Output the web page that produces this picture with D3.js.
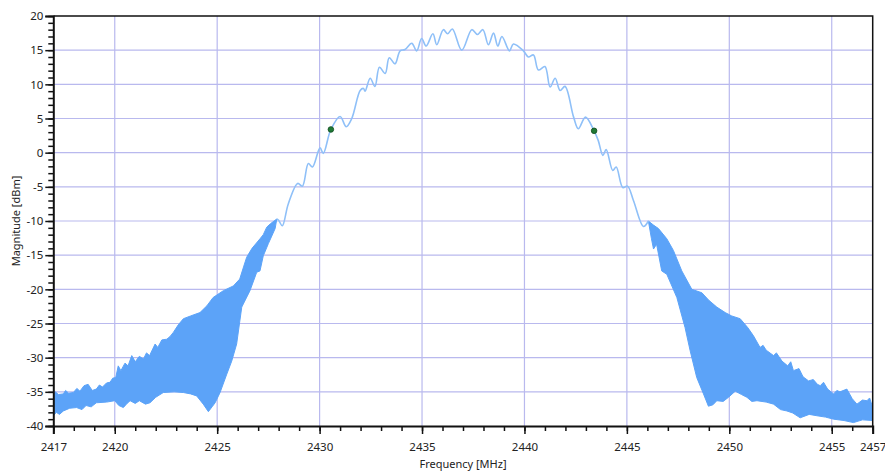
<!DOCTYPE html>
<html>
<head>
<meta charset="utf-8">
<script src="https://cdn.jsdelivr.net/npm/d3@7"></script>
<style>
  body { margin: 0; background: #ffffff; }
  text { font-family: "Noto Sans", "Open Sans", sans-serif; fill: #222; }
</style>
</head>
<body>
<svg id="chart" width="885" height="472"></svg>
<script>
// Axis ticks
const xTickLabels = [2417, 2420, 2425, 2430, 2435, 2440, 2445, 2450, 2455, 2457];
const yTickLabels = [-40, -35, -30, -25, -20, -15, -10, -5, 0, 5, 10, 15, 20];
const xGrid = [2420, 2425, 2430, 2435, 2440, 2445, 2450, 2455];
const yGrid = [-35, -30, -25, -20, -15, -10, -5, 0, 5, 10, 15];

// Lower sideband noise envelope [MHz, dBm]
const leftBandUpper = [
  [2417.0, -35.6], [2417.1, -35.0], [2417.25, -35.4], [2417.49, -35.3], [2417.6, -34.8],
  [2417.75, -35.2], [2417.98, -35.1], [2418.15, -34.5], [2418.3, -34.9], [2418.5, -34.1],
  [2418.7, -33.9], [2418.9, -34.8], [2419.1, -34.6], [2419.25, -34.0], [2419.4, -34.3],
  [2419.6, -33.7], [2419.77, -33.6], [2419.9, -33.0], [2420.05, -32.9], [2420.17, -31.2],
  [2420.3, -31.9], [2420.5, -30.8], [2420.65, -31.2], [2420.83, -29.7], [2421.0, -30.6],
  [2421.2, -29.8], [2421.4, -30.2], [2421.55, -29.3], [2421.7, -29.7], [2421.97, -28.0],
  [2422.1, -28.5], [2422.3, -27.4], [2422.54, -27.3], [2422.7, -26.9], [2422.86, -26.3],
  [2423.1, -25.2], [2423.35, -24.3], [2423.7, -23.9], [2424.16, -23.4], [2424.5, -22.4],
  [2424.8, -21.2], [2425.3, -20.2], [2425.79, -19.5], [2426.1, -18.5], [2426.3, -16.6],
  [2426.44, -15.3], [2426.7, -14.0], [2427.09, -12.6], [2427.25, -12.0], [2427.42, -10.9],
  [2427.6, -10.4], [2427.91, -9.7]
];
const leftBandLower = [
  [2417.0, -38.5], [2417.15, -38.0], [2417.3, -38.3], [2417.49, -37.8], [2417.8, -37.4],
  [2418.14, -37.3], [2418.4, -37.6], [2418.6, -37.0], [2418.85, -37.2], [2419.1, -36.6],
  [2419.6, -36.5], [2420.0, -36.3], [2420.2, -37.0], [2420.42, -37.3], [2420.6, -36.7],
  [2420.75, -36.3], [2421.0, -36.7], [2421.2, -36.3], [2421.5, -36.8], [2421.72, -36.6],
  [2422.0, -35.8], [2422.37, -35.1], [2422.9, -35.0], [2423.35, -35.1], [2423.7, -35.3],
  [2424.0, -35.6], [2424.32, -36.8], [2424.57, -37.9], [2424.75, -37.2], [2424.9, -36.6],
  [2425.14, -35.1], [2425.47, -32.4], [2425.71, -30.5], [2425.95, -28.0], [2426.2, -22.6],
  [2426.6, -20.2], [2426.93, -17.5], [2427.09, -17.3], [2427.25, -15.1], [2427.5, -13.3],
  [2427.83, -11.1], [2427.91, -9.7]
];

// Upper sideband noise envelope [MHz, dBm]
const rightBandUpper = [
  [2446.05, -10.0], [2446.3, -10.6], [2446.54, -11.1], [2446.95, -12.6], [2447.27, -14.3],
  [2447.68, -17.3], [2448.17, -20.0], [2448.66, -20.5], [2449.0, -21.6], [2449.39, -22.6],
  [2449.8, -23.4], [2450.12, -23.9], [2450.53, -24.3], [2450.9, -25.6], [2451.18, -26.8],
  [2451.5, -28.5], [2451.65, -28.2], [2451.8, -28.9], [2452.16, -29.7], [2452.3, -29.3],
  [2452.57, -30.5], [2452.85, -31.2], [2453.0, -30.6], [2453.13, -31.9], [2453.4, -31.6],
  [2453.6, -32.8], [2453.87, -33.4], [2454.1, -33.2], [2454.3, -33.9], [2454.44, -34.1],
  [2454.6, -33.6], [2454.8, -34.6], [2455.09, -35.3], [2455.25, -34.8], [2455.4, -35.0],
  [2455.74, -34.6], [2456.0, -36.0], [2456.23, -36.8], [2456.5, -36.2], [2456.72, -36.3],
  [2456.85, -35.9], [2457.0, -37.3]
];
const rightBandLower = [
  [2446.05, -10.0], [2446.2, -12.6], [2446.3, -14.1], [2446.45, -13.4], [2446.7, -17.3],
  [2446.95, -17.8], [2447.44, -21.2], [2447.84, -25.6], [2448.09, -29.0], [2448.41, -32.9],
  [2448.74, -35.3], [2448.98, -37.1], [2449.2, -36.9], [2449.39, -36.3], [2449.7, -36.4],
  [2449.96, -35.8], [2450.29, -34.9], [2450.6, -35.4], [2450.86, -35.8], [2451.1, -36.4],
  [2451.35, -36.3], [2451.8, -36.5], [2452.16, -36.8], [2452.5, -37.6], [2452.81, -37.8],
  [2453.1, -38.1], [2453.46, -38.8], [2453.9, -38.3], [2454.28, -38.5], [2454.7, -38.7],
  [2455.09, -39.0], [2455.6, -39.2], [2456.06, -39.5], [2456.5, -39.1], [2457.0, -39.2]
];

// In-band trace [MHz, dBm]
const inBandTrace = [
  [2427.91, -9.7], [2428.0, -9.9], [2428.18, -10.7], [2428.47, -7.5], [2428.93, -4.5],
  [2429.16, -4.9], [2429.45, -1.6], [2429.65, -2.1], [2430.02, 0.7], [2430.18, -0.1],
  [2430.55, 3.4], [2431.0, 5.3], [2431.3, 3.8], [2431.57, 5.0], [2431.98, 9.1],
  [2432.14, 9.4], [2432.22, 9.0], [2432.47, 10.9], [2432.7, 9.7], [2432.92, 12.5],
  [2433.2, 11.6], [2433.4, 13.9], [2433.68, 13.0], [2433.93, 14.9], [2434.17, 15.1],
  [2434.5, 16.0], [2434.74, 14.9], [2434.98, 16.7], [2435.2, 15.6], [2435.53, 17.4],
  [2435.72, 15.8], [2436.04, 18.0], [2436.25, 17.4], [2436.48, 18.1], [2436.94, 15.0],
  [2437.43, 18.0], [2437.7, 17.3], [2437.97, 18.0], [2438.24, 15.8], [2438.49, 17.5],
  [2438.7, 15.6], [2438.9, 17.0], [2439.27, 14.9], [2439.46, 15.9], [2439.95, 14.9],
  [2440.19, 14.0], [2440.44, 14.3], [2440.68, 12.1], [2441.0, 12.6], [2441.25, 9.6],
  [2441.5, 10.9], [2441.74, 9.1], [2441.98, 9.7], [2442.4, 5.2], [2442.63, 3.5],
  [2442.98, 5.2], [2443.4, 3.2], [2443.6, 1.8], [2443.83, -0.4], [2443.99, 0.45],
  [2444.31, -2.6], [2444.48, -2.1], [2444.8, -5.1], [2445.03, -4.9], [2445.32, -7.0],
  [2445.81, -10.8], [2446.05, -10.0]
];

// Marker points [MHz, dBm]
const markerPoints = [[2430.55, 3.4], [2443.4, 3.2]];

const svg = d3.select("#chart");
const margin = { left: 53.3, right: 12.3, top: 16, bottom: 46 };
const W = 885, H = 472;

const x = d3.scaleLinear().domain([2417, 2457]).range([margin.left, W - margin.right]);
const y = d3.scaleLinear().domain([-40, 20]).range([H - margin.bottom, margin.top]);

// grid
const gridColor = "#b9b9ee";
svg.append("g").selectAll("line").data(xGrid).join("line")
  .attr("x1", d => x(d)).attr("x2", d => x(d))
  .attr("y1", y(20)).attr("y2", y(-40))
  .attr("stroke", gridColor).attr("stroke-width", 1.2);
svg.append("g").selectAll("line").data(yGrid).join("line")
  .attr("x1", x(2417)).attr("x2", x(2457))
  .attr("y1", d => y(d)).attr("y2", d => y(d))
  .attr("stroke", gridColor).attr("stroke-width", 1.2);

// clip to plot area
svg.append("clipPath").attr("id", "plotClip").append("rect")
  .attr("x", x(2417)).attr("y", y(20))
  .attr("width", x(2457) - x(2417)).attr("height", y(-40) - y(20));
const plot = svg.append("g").attr("clip-path", "url(#plotClip)");

const line = d3.line().x(d => x(d[0])).y(d => y(d[1]));
const bandColor = "#5ca3f8";

function band(upper, lower) {
  const pts = upper.concat(lower.slice().reverse());
  plot.append("path")
    .attr("d", line(pts) + "Z")
    .attr("fill", bandColor)
    .attr("stroke", bandColor)
    .attr("stroke-width", 1)
    .attr("stroke-linejoin", "round");
}
band(leftBandUpper, leftBandLower);
band(rightBandUpper, rightBandLower);

// in-band trace
plot.append("path")
  .attr("d", d3.line().x(d => x(d[0])).y(d => y(d[1])).curve(d3.curveCatmullRom.alpha(0.5))(inBandTrace))
  .attr("fill", "none")
  .attr("stroke", "#8fc0f8")
  .attr("stroke-width", 1.6);

// markers
plot.append("g").selectAll("circle").data(markerPoints).join("circle")
  .attr("cx", d => x(d[0])).attr("cy", d => y(d[1]))
  .attr("r", 2.8)
  .attr("fill", "#1f7a35")
  .attr("stroke", "#0f4a1e")
  .attr("stroke-width", 0.8);

// frame (top, right)
svg.append("path")
  .attr("d", `M${x(2417)},${y(20)}H${x(2457)}V${y(-40)}`)
  .attr("fill", "none").attr("stroke", "#111").attr("stroke-width", 1.5);

// x axis
const xMinor = d3.range(2417, 2458, 1);
const xAxisG = svg.append("g").attr("transform", `translate(0,${y(-40)})`);
xAxisG.call(d3.axisBottom(x).tickValues(xMinor).tickSize(5).tickFormat(""));
xAxisG.selectAll("path.domain").remove();
xAxisG.selectAll("line").attr("stroke", "#111").attr("stroke-width", 1.5);
const xMajorG = svg.append("g").attr("transform", `translate(0,${y(-40)})`);
xMajorG.call(d3.axisBottom(x).tickValues(xTickLabels).tickSize(8).tickPadding(9).tickFormat(d3.format("d")));
xMajorG.select("path.domain").attr("stroke", "#111").attr("stroke-width", 2);
xMajorG.selectAll("line").attr("stroke", "#111").attr("stroke-width", 1.5);
xMajorG.selectAll("text").attr("font-size", "11.5px").attr("fill", "#222")
  .style("font-family", '"Noto Sans", "Open Sans", sans-serif');

// y axis
const yMinor = d3.range(-40, 21, 1);
const yAxisG = svg.append("g").attr("transform", `translate(${x(2417)},0)`);
yAxisG.call(d3.axisLeft(y).tickValues(yMinor).tickSize(5).tickFormat(""));
yAxisG.selectAll("path.domain").remove();
yAxisG.selectAll("line").attr("stroke", "#111").attr("stroke-width", 1.5);
const yMajorG = svg.append("g").attr("transform", `translate(${x(2417)},0)`);
yMajorG.call(d3.axisLeft(y).tickValues(yTickLabels).tickSize(8).tickPadding(2).tickFormat(d3.format("d")));
yMajorG.select("path.domain").attr("stroke", "#111").attr("stroke-width", 2);
yMajorG.selectAll("line").attr("stroke", "#111").attr("stroke-width", 1.5);
yMajorG.selectAll("text").attr("font-size", "11.5px").attr("fill", "#222")
  .style("font-family", '"Noto Sans", "Open Sans", sans-serif');
// plain hyphen-minus on negative labels
yMajorG.selectAll("text").text(d => String(d));

// axis titles
svg.append("text")
  .attr("x", (x(2417) + x(2457)) / 2).attr("y", 468)
  .attr("text-anchor", "middle").attr("font-size", "11px")
  .text("Frequency [MHz]");
svg.append("text")
  .attr("transform", `translate(20,${(y(20) + y(-40)) / 2}) rotate(-90)`)
  .attr("text-anchor", "middle").attr("font-size", "11px")
  .text("Magnitude [dBm]");
</script>
</body>
</html>
